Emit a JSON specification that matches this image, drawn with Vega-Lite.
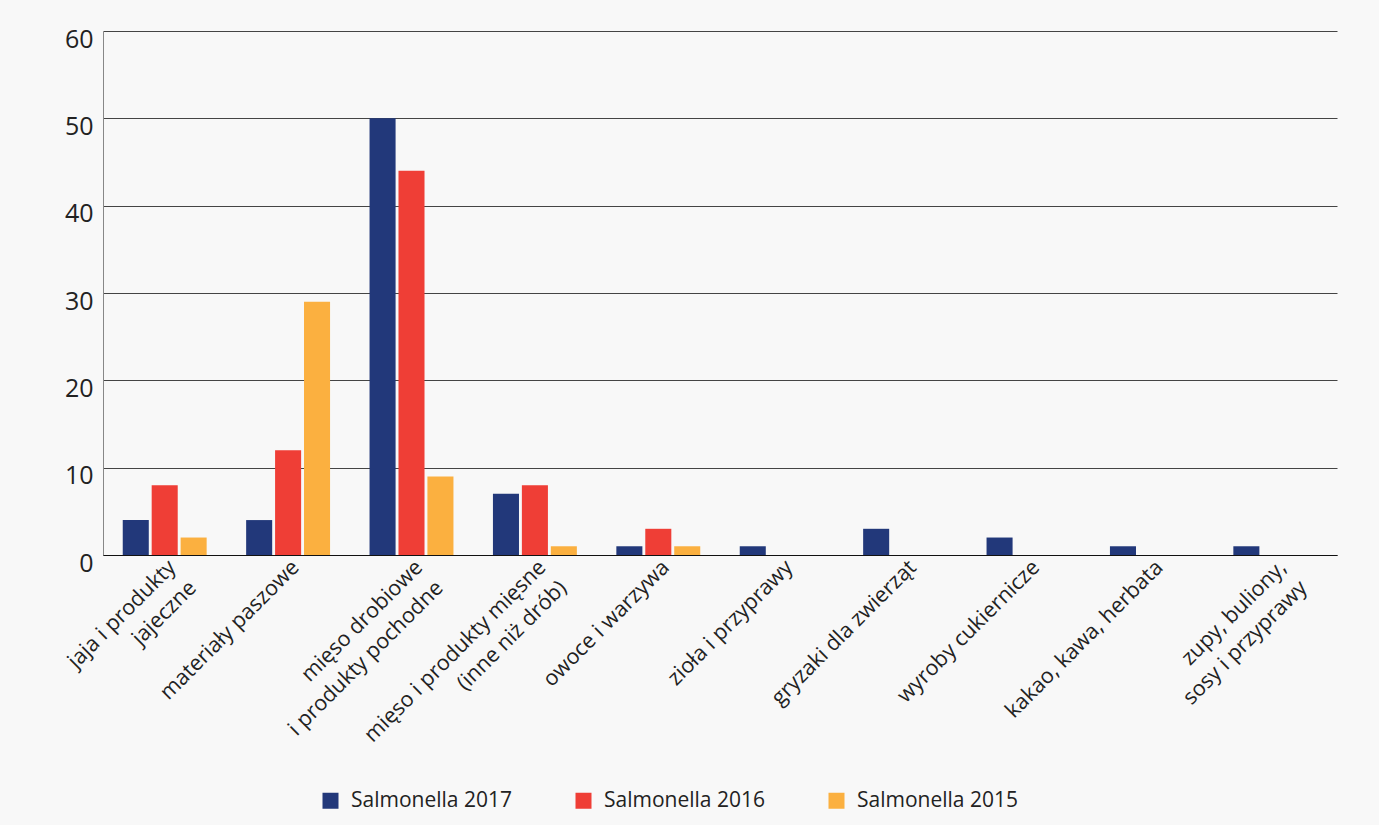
{
  "$schema": "https://vega.github.io/schema/vega-lite/v6.json",
  "width": 1234,
  "height": 524,
  "autosize": {"type": "none"},
  "padding": {"left": 103, "top": 31, "right": 42, "bottom": 270},
  "background": "#f8f8f8",
  "config": {"view": {"stroke": null}, "font": "Open Sans"},
  "data": {
    "values": [
      {"cat": "jaja i produkty|jajeczne", "series": "Salmonella 2017", "v": 4},
      {"cat": "jaja i produkty|jajeczne", "series": "Salmonella 2016", "v": 8},
      {"cat": "jaja i produkty|jajeczne", "series": "Salmonella 2015", "v": 2},
      {"cat": "materiały paszowe", "series": "Salmonella 2017", "v": 4},
      {"cat": "materiały paszowe", "series": "Salmonella 2016", "v": 12},
      {"cat": "materiały paszowe", "series": "Salmonella 2015", "v": 29},
      {"cat": "mięso drobiowe|i produkty pochodne", "series": "Salmonella 2017", "v": 50},
      {"cat": "mięso drobiowe|i produkty pochodne", "series": "Salmonella 2016", "v": 44},
      {"cat": "mięso drobiowe|i produkty pochodne", "series": "Salmonella 2015", "v": 9},
      {"cat": "mięso i produkty mięsne|(inne niż drób)", "series": "Salmonella 2017", "v": 7},
      {"cat": "mięso i produkty mięsne|(inne niż drób)", "series": "Salmonella 2016", "v": 8},
      {"cat": "mięso i produkty mięsne|(inne niż drób)", "series": "Salmonella 2015", "v": 1},
      {"cat": "owoce i warzywa", "series": "Salmonella 2017", "v": 1},
      {"cat": "owoce i warzywa", "series": "Salmonella 2016", "v": 3},
      {"cat": "owoce i warzywa", "series": "Salmonella 2015", "v": 1},
      {"cat": "zioła i przyprawy", "series": "Salmonella 2017", "v": 1},
      {"cat": "zioła i przyprawy", "series": "Salmonella 2016", "v": 0},
      {"cat": "zioła i przyprawy", "series": "Salmonella 2015", "v": 0},
      {"cat": "gryzaki dla zwierząt", "series": "Salmonella 2017", "v": 3},
      {"cat": "gryzaki dla zwierząt", "series": "Salmonella 2016", "v": 0},
      {"cat": "gryzaki dla zwierząt", "series": "Salmonella 2015", "v": 0},
      {"cat": "wyroby cukiernicze", "series": "Salmonella 2017", "v": 2},
      {"cat": "wyroby cukiernicze", "series": "Salmonella 2016", "v": 0},
      {"cat": "wyroby cukiernicze", "series": "Salmonella 2015", "v": 0},
      {"cat": "kakao, kawa, herbata", "series": "Salmonella 2017", "v": 1},
      {"cat": "kakao, kawa, herbata", "series": "Salmonella 2016", "v": 0},
      {"cat": "kakao, kawa, herbata", "series": "Salmonella 2015", "v": 0},
      {"cat": "zupy, buliony,|sosy i przyprawy", "series": "Salmonella 2017", "v": 1},
      {"cat": "zupy, buliony,|sosy i przyprawy", "series": "Salmonella 2016", "v": 0},
      {"cat": "zupy, buliony,|sosy i przyprawy", "series": "Salmonella 2015", "v": 0}
    ]
  },
  "mark": {"type": "bar"},
  "encoding": {
    "x": {
      "field": "cat",
      "type": "nominal",
      "sort": null,
      "scale": {"paddingInner": 0.32, "paddingOuter": 0.16},
      "axis": {
        "title": null,
        "labelAngle": -45,
        "labelAlign": "right",
        "labelBaseline": "middle",
        "labelOffset": 8,
        "labelPadding": 9,
        "labelFontSize": 21.5,
        "labelColor": "#222",
        "labelLineHeight": 29,
        "labelLimit": 400,
        "labelExpr": "split(datum.label, '|')",
        "ticks": false,
        "domainColor": "#111",
        "domainWidth": 1.2,
        "zindex": 1
      }
    },
    "xOffset": {
      "field": "series",
      "type": "nominal",
      "sort": ["Salmonella 2017", "Salmonella 2016", "Salmonella 2015"],
      "scale": {"paddingInner": 0.1, "paddingOuter": 0}
    },
    "y": {
      "field": "v",
      "type": "quantitative",
      "scale": {"domain": [0, 60]},
      "axis": {
        "title": null,
        "values": [0, 10, 20, 30, 40, 50, 60],
        "labelFontSize": 25,
        "labelColor": "#222",
        "labelPadding": 10,
        "labelOffset": 8,
        "ticks": false,
        "domainColor": "#888",
        "gridColor": "#444",
        "gridWidth": 1,
        "grid": true
      }
    },
    "color": {
      "field": "series",
      "type": "nominal",
      "scale": {
        "domain": ["Salmonella 2017", "Salmonella 2016", "Salmonella 2015"],
        "range": ["#22387a", "#ef3e36", "#fbb040"]
      },
      "legend": {
        "title": null,
        "orient": "none",
        "direction": "horizontal",
        "legendX": 217,
        "legendY": 759,
        "symbolType": "square",
        "symbolSize": 256,
        "symbolStrokeWidth": 0,
        "labelFontSize": 21,
        "labelColor": "#222",
        "labelOffset": 10,
        "labelLimit": 300,
        "columnPadding": 61
      }
    }
  }
}
